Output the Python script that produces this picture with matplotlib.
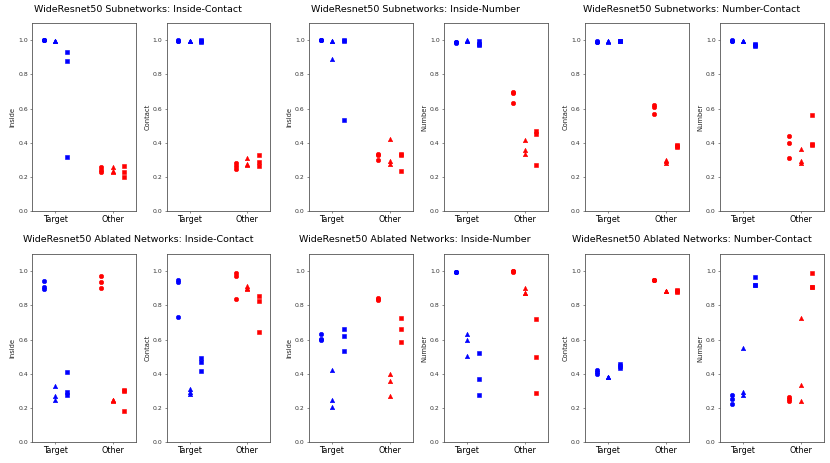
import matplotlib
matplotlib.use("Agg")
import matplotlib.pyplot as plt

# categories / shapes
categories = ["Target", "Other"]
cat_colors = ["blue", "red"]
markers = ["o", "^", "s"]
offsets = [-0.2, 0.0, 0.2]

# each list: [circles, triangles, squares]
# --- Subnetworks ---
sub_ic_inside_target = [[1.0, 1.0, 1.0], [0.997, 0.997, 0.996], [0.93, 0.88, 0.315]]
sub_ic_inside_other = [[0.255, 0.24, 0.225], [0.255, 0.235, 0.23], [0.26, 0.23, 0.20]]
sub_ic_contact_target = [[1.0, 0.998, 0.997], [0.997, 0.997, 0.996], [1.0, 0.995, 0.99]]
sub_ic_contact_other = [[0.28, 0.26, 0.245], [0.31, 0.275, 0.27], [0.327, 0.288, 0.26]]

sub_in_inside_target = [[1.0, 1.0, 1.0], [0.995, 0.995, 0.89], [1.0, 0.995, 0.535]]
sub_in_inside_other = [[0.335, 0.325, 0.30], [0.42, 0.29, 0.275], [0.335, 0.325, 0.235]]
sub_in_number_target = [[0.99, 0.985, 0.99], [1.0, 0.997, 0.995], [0.995, 0.98, 0.97]]
sub_in_number_other = [[0.695, 0.69, 0.635], [0.417, 0.358, 0.333], [0.466, 0.45, 0.27]]

sub_nc_contact_target = [[0.995, 0.993, 0.992], [0.995, 0.994, 0.993], [0.998, 0.997, 0.995]]
sub_nc_contact_other = [[0.62, 0.61, 0.57], [0.30, 0.29, 0.28], [0.385, 0.378, 0.372]]
sub_nc_number_target = [[1.0, 0.999, 0.998], [0.996, 0.995, 0.994], [0.98, 0.97, 0.965]]
sub_nc_number_other = [[0.44, 0.40, 0.31], [0.36, 0.295, 0.28], [0.56, 0.39, 0.385]]

# --- Ablated networks ---
abl_ic_inside_target = [[0.945, 0.91, 0.895], [0.326, 0.271, 0.246], [0.41, 0.29, 0.275]]
abl_ic_inside_other = [[0.97, 0.935, 0.904], [0.248, 0.245, 0.242], [0.305, 0.30, 0.183]]
abl_ic_contact_target = [[0.949, 0.935, 0.733], [0.312, 0.295, 0.278], [0.49, 0.47, 0.415]]
abl_ic_contact_other = [[0.992, 0.974, 0.839], [0.914, 0.90, 0.894], [0.855, 0.827, 0.646]]

abl_in_inside_target = [[0.631, 0.601, 0.597], [0.422, 0.248, 0.206], [0.66, 0.623, 0.53]]
abl_in_inside_other = [[0.841, 0.835, 0.831], [0.395, 0.356, 0.269], [0.727, 0.664, 0.587]]
abl_in_number_target = [[0.996, 0.995, 0.995], [0.635, 0.595, 0.503], [0.521, 0.369, 0.273]]
abl_in_number_other = [[1.0, 1.0, 0.999], [0.902, 0.874, 0.874], [0.719, 0.497, 0.285]]

abl_nc_contact_target = [[0.42, 0.409, 0.40], [0.38, 0.379, 0.378], [0.455, 0.445, 0.435]]
abl_nc_contact_other = [[0.949, 0.948, 0.947], [0.884, 0.883, 0.882], [0.89, 0.885, 0.88]]
abl_nc_number_target = [[0.277, 0.251, 0.222], [0.55, 0.293, 0.277], [0.967, 0.918, 0.918]]
abl_nc_number_other = [[0.265, 0.251, 0.238], [0.725, 0.336, 0.238], [0.988, 0.91, 0.91]]

titles = [
    "WideResnet50 Subnetworks: Inside-Contact",
    "WideResnet50 Subnetworks: Inside-Number",
    "WideResnet50 Subnetworks: Number-Contact",
    "WideResnet50 Ablated Networks: Inside-Contact",
    "WideResnet50 Ablated Networks: Inside-Number",
    "WideResnet50 Ablated Networks: Number-Contact",
]

# panels in reading order: (ylabel, target, other)
panels = [
    ("Inside", sub_ic_inside_target, sub_ic_inside_other),
    ("Contact", sub_ic_contact_target, sub_ic_contact_other),
    ("Inside", sub_in_inside_target, sub_in_inside_other),
    ("Number", sub_in_number_target, sub_in_number_other),
    ("Contact", sub_nc_contact_target, sub_nc_contact_other),
    ("Number", sub_nc_number_target, sub_nc_number_other),
    ("Inside", abl_ic_inside_target, abl_ic_inside_other),
    ("Contact", abl_ic_contact_target, abl_ic_contact_other),
    ("Inside", abl_in_inside_target, abl_in_inside_other),
    ("Number", abl_in_number_target, abl_in_number_other),
    ("Contact", abl_nc_contact_target, abl_nc_contact_other),
    ("Number", abl_nc_number_target, abl_nc_number_other),
]

W, H = 830, 463
fig = plt.figure(figsize=(8.3, 4.63), dpi=100)

col_left_px = [32.3, 166.7, 309, 444, 585, 720]
ax_w_px = 103.5
row_top_px = [23.3, 254.3]
ax_h_px = 187.5

for i, (ylab, tgt, oth) in enumerate(panels):
    r, c = divmod(i, 6)
    ax = fig.add_axes([col_left_px[c] / W, 1 - (row_top_px[r] + ax_h_px) / H,
                       ax_w_px / W, ax_h_px / H])
    for ci, group in enumerate([tgt, oth]):
        for si, vals in enumerate(group):
            ax.plot([ci + offsets[si]] * len(vals), vals, linestyle="none",
                    marker=markers[si], color=cat_colors[ci], ms=3.2, mew=0.4)
    ax.set_xlim(-0.4, 1.4)
    ax.set_ylim(0, 1.1)
    ax.set_xticks([0, 1])
    ax.set_xticklabels(categories, fontsize=5.8)
    ax.set_yticks([0, 0.2, 0.4, 0.6, 0.8, 1.0])
    ax.tick_params(axis="y", labelsize=4.4, length=1.6, width=0.4, pad=1.5,
                   colors="#333333")
    ax.tick_params(axis="x", length=1.6, width=0.4, pad=1.5, colors="#333333")
    for lab in ax.get_xticklabels():
        lab.set_color("black")
    ax.set_ylabel(ylab, fontsize=4.9, labelpad=1.8, color="#222222")
    for sp in ax.spines.values():
        sp.set_linewidth(0.6)
        sp.set_color("#555555")

for k, t in enumerate(titles):
    r, c = divmod(k, 3)
    y = 1 - (9 if r == 0 else 239.5) / H
    fig.text((c + 0.5) / 3, y, t, ha="center", va="center", fontsize=6.8)

fig.savefig("out.png", dpi=100)
